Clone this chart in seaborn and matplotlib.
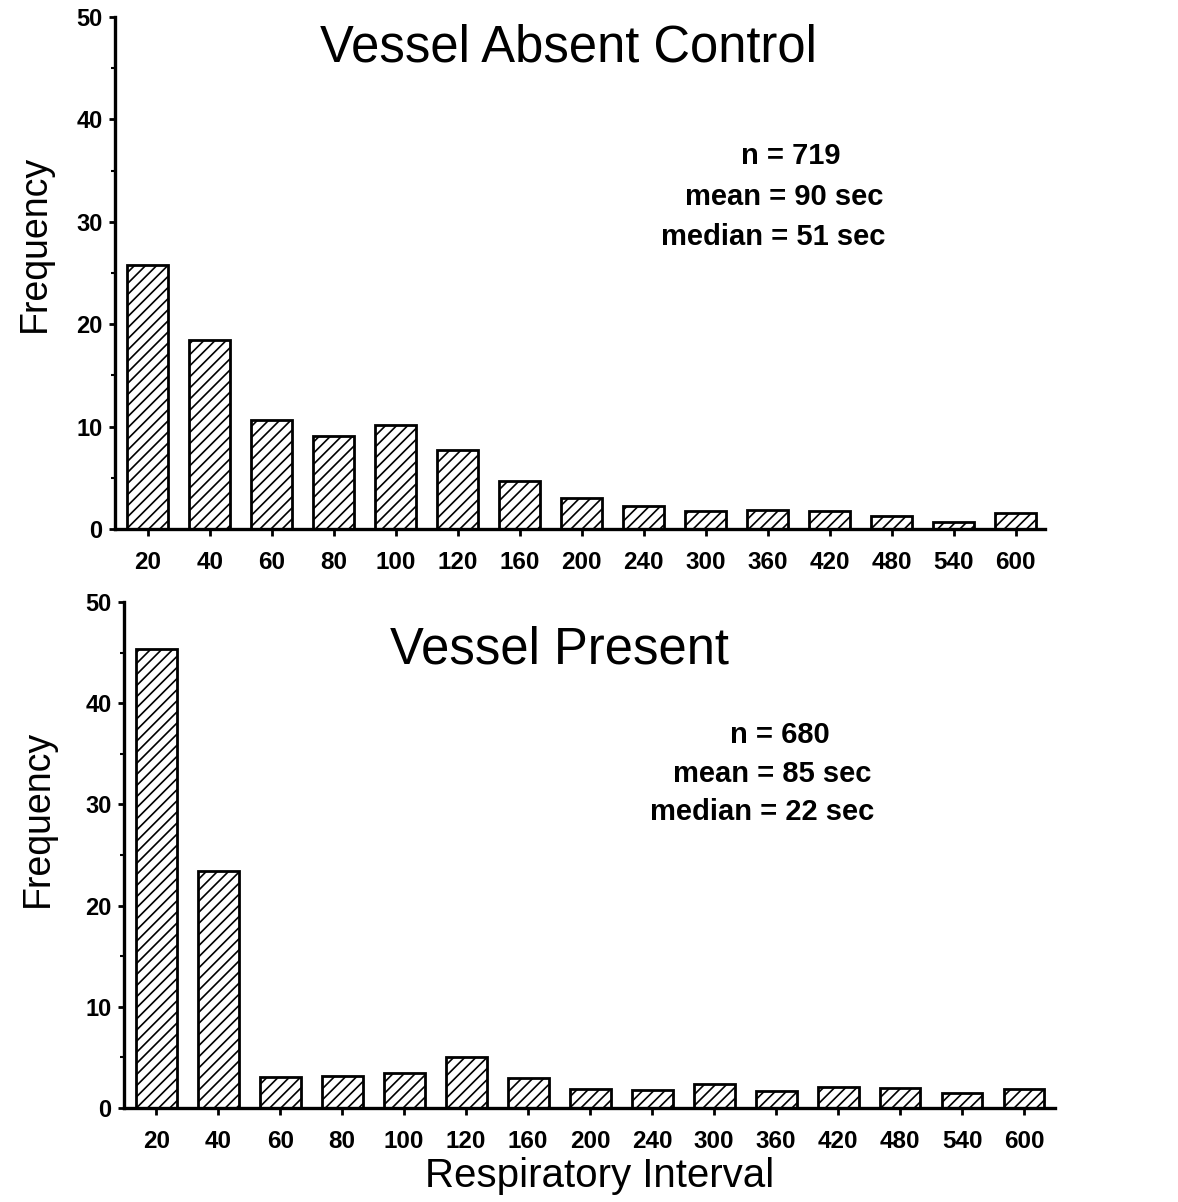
import matplotlib
matplotlib.use("Agg")
import matplotlib.pyplot as plt
from matplotlib.ticker import MultipleLocator
import seaborn as sns
import pandas as pd

# ---- data ----
intervals = ["20", "40", "60", "80", "100", "120", "160", "200",
             "240", "300", "360", "420", "480", "540", "600"]
absent_freq = [25.8, 18.5, 10.6, 9.1, 10.2, 7.7, 4.7, 3.0,
               2.2, 1.8, 1.9, 1.8, 1.3, 0.7, 1.6]
present_freq = [45.4, 23.4, 3.1, 3.2, 3.5, 5.0, 3.0, 1.9,
                1.8, 2.4, 1.7, 2.1, 2.0, 1.5, 1.9]
titles = ["Vessel Absent Control", "Vessel Present"]
stats_absent = ["n = 719", "mean = 90 sec", "median = 51 sec"]
stats_present = ["n = 680", "mean = 85 sec", "median = 22 sec"]
ylabel = "Frequency"
xlabel = "Respiratory Interval"

sns.set_style("ticks")
plt.rcParams["font.family"] = ["Liberation Sans", "DejaVu Sans"]
plt.rcParams["text.color"] = "black"
plt.rcParams["axes.labelcolor"] = "black"
plt.rcParams["xtick.color"] = "black"
plt.rcParams["ytick.color"] = "black"
plt.rcParams["hatch.linewidth"] = 1.2
plt.rcParams["hatch.color"] = "black"

W, H = 1178, 1202
fig = plt.figure(figsize=(W / 100, H / 100), dpi=100)
fig.patch.set_facecolor("white")

ax1 = fig.add_axes([115 / W, 1 - 529 / H, 930 / W, 512 / H])
ax2 = fig.add_axes([124 / W, 1 - 1108 / H, 931 / W, 506 / H])

for ax, vals, xl in [(ax1, absent_freq, (-0.53, 14.47)),
                     (ax2, present_freq, (-0.52, 14.5))]:
    df = pd.DataFrame({"interval": intervals, "freq": vals})
    sns.barplot(data=df, x="interval", y="freq", order=intervals, ax=ax,
                color="white", edgecolor="black", linewidth=2.0,
                hatch="///", width=0.66, saturation=1, errorbar=None)
    ax.set_xlim(*xl)
    ax.set_ylim(0, 50)
    ax.yaxis.set_major_locator(MultipleLocator(10))
    ax.yaxis.set_minor_locator(MultipleLocator(5))
    ax.set_xlabel("")
    ax.set_ylabel("")
    ax.set_facecolor("white")
    sns.despine(ax=ax)
    for s in ("left", "bottom"):
        ax.spines[s].set_linewidth(2.4)
        ax.spines[s].set_color("black")
    ax.tick_params(axis="x", direction="out", length=5, width=2,
                   pad=11, labelsize=17.5, colors="black")
    ax.tick_params(axis="y", which="major", direction="out", length=4,
                   width=2, pad=5, labelsize=17, colors="black")
    ax.tick_params(axis="y", which="minor", direction="out", length=3,
                   width=1.5)
    for lab in ax.get_xticklabels() + ax.get_yticklabels():
        lab.set_fontweight("bold")

# titles
fig.text(568 / W, 1 - 62 / H, titles[0], ha="center", va="baseline",
         fontsize=36.5, color="black")
fig.text(559 / W, 1 - 663 / H, titles[1], ha="center", va="baseline",
         fontsize=36.5, color="black")

# stats
for txt, x, y in zip(stats_absent, [791, 784, 773], [164, 205, 245]):
    fig.text(x / W, 1 - y / H, txt, ha="center", va="baseline",
             fontsize=21, fontweight="bold", color="black")
for txt, x, y in zip(stats_present, [780, 772, 762], [743, 782, 820]):
    fig.text(x / W, 1 - y / H, txt, ha="center", va="baseline",
             fontsize=21, fontweight="bold", color="black")

# axis labels
fig.text(35 / W, 1 - 243 / H, ylabel, rotation=90, ha="center",
         va="center", fontsize=27, color="black")
fig.text(38 / W, 1 - 818 / H, ylabel, rotation=90, ha="center",
         va="center", fontsize=27, color="black")
fig.text(600 / W, 1 - 1187 / H, xlabel, ha="center", va="baseline",
         fontsize=29, color="black")

fig.savefig("out.png", dpi=100, facecolor="white")
